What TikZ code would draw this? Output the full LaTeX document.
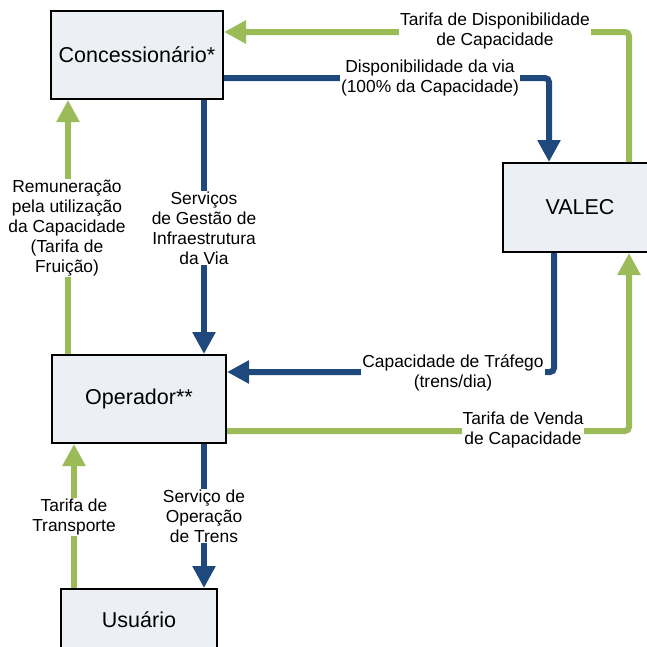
\documentclass[tikz,border=0pt]{standalone}
\usepackage{fontspec}
\setmainfont{Liberation Sans}
\usetikzlibrary{arrows.meta}
\definecolor{navy}{RGB}{31,73,125}
\definecolor{olive}{RGB}{155,187,89}
\definecolor{boxfill}{RGB}{236,240,245}
\begin{document}
\begin{tikzpicture}[x=1pt,y=-1pt,
  entity/.style={draw=black, line width=2pt, fill=boxfill, font=\fontsize{21.5}{24}\selectfont, inner sep=0pt},
  flowblue/.style={color=navy, line width=6pt, rounded corners=4pt, -{Triangle[width=22pt,length=22pt]}},
  flowgreen/.style={color=olive, line width=6pt, rounded corners=4pt, -{Triangle[width=22pt,length=22pt]}},
  lbl/.style={fill=white, inner sep=1pt, align=center, font=\fontsize{17.4}{20}\selectfont}]
\useasboundingbox (0,0) rectangle (647,646);
\clip (0,0) rectangle (647,646);
% boxes
\node[entity, minimum width=172pt, minimum height=88pt] (conc) at (137,55) {Concessionário*};
\node[entity, minimum width=154pt, minimum height=89pt] (valec) at (580,207.5) {VALEC};
\node[entity, minimum width=174pt, minimum height=88pt] (oper) at (139,399) {Operador**};
\node[entity, minimum width=156pt, minimum height=62pt] (usu) at (139,620) {Usuário};
% connectors
\draw[flowgreen] ([xshift=49pt]valec.north) |- ([yshift=23pt]conc.east);
\draw[flowblue] ([yshift=-23pt]conc.east) -| ([xshift=-31pt]valec.north);
\draw[flowblue] ([xshift=-26pt]valec.south) |- ([yshift=27pt]oper.east);
\draw[flowgreen] ([yshift=-32pt]oper.east) -| ([xshift=49pt]valec.south);
\draw[flowblue] ([xshift=67pt]conc.south) -- ([xshift=67pt]conc.south |- oper.north);
\draw[flowgreen] ([xshift=-71pt]oper.north) -- ([xshift=-71pt]oper.north |- conc.south);
\draw[flowblue] ([xshift=65pt]oper.south) -- ([xshift=65pt]oper.south |- usu.north);
\draw[flowgreen] ([xshift=-65pt]usu.north) -- ([xshift=-65pt]usu.north |- oper.south);
% labels
\node[lbl] (l1) at (495,31) {Tarifa de Disponibilidade\\de Capacidade};
\node[lbl] (l2) at (430,78) {Disponibilidade da via\\(100\% da Capacidade)};
\node[lbl] (l3) at (453,373) {Capacidade de Tráfego\\(trens/dia)};
\node[lbl] (l4) at (523,430) {Tarifa de Venda\\de Capacidade};
\node[lbl] (l5) at (204,228) {Serviços\\de Gestão de\\Infraestrutura\\da Via};
\node[lbl] (l6) at (67,228) {Remuneração\\pela utilização\\da Capacidade\\(Tarifa de\\Fruição)};
\node[lbl] (l7) at (204,516) {Serviço de\\Operação\\de Trens};
\node[lbl] (l8) at (74,517) {Tarifa de\\Transporte};
\end{tikzpicture}
\end{document}
